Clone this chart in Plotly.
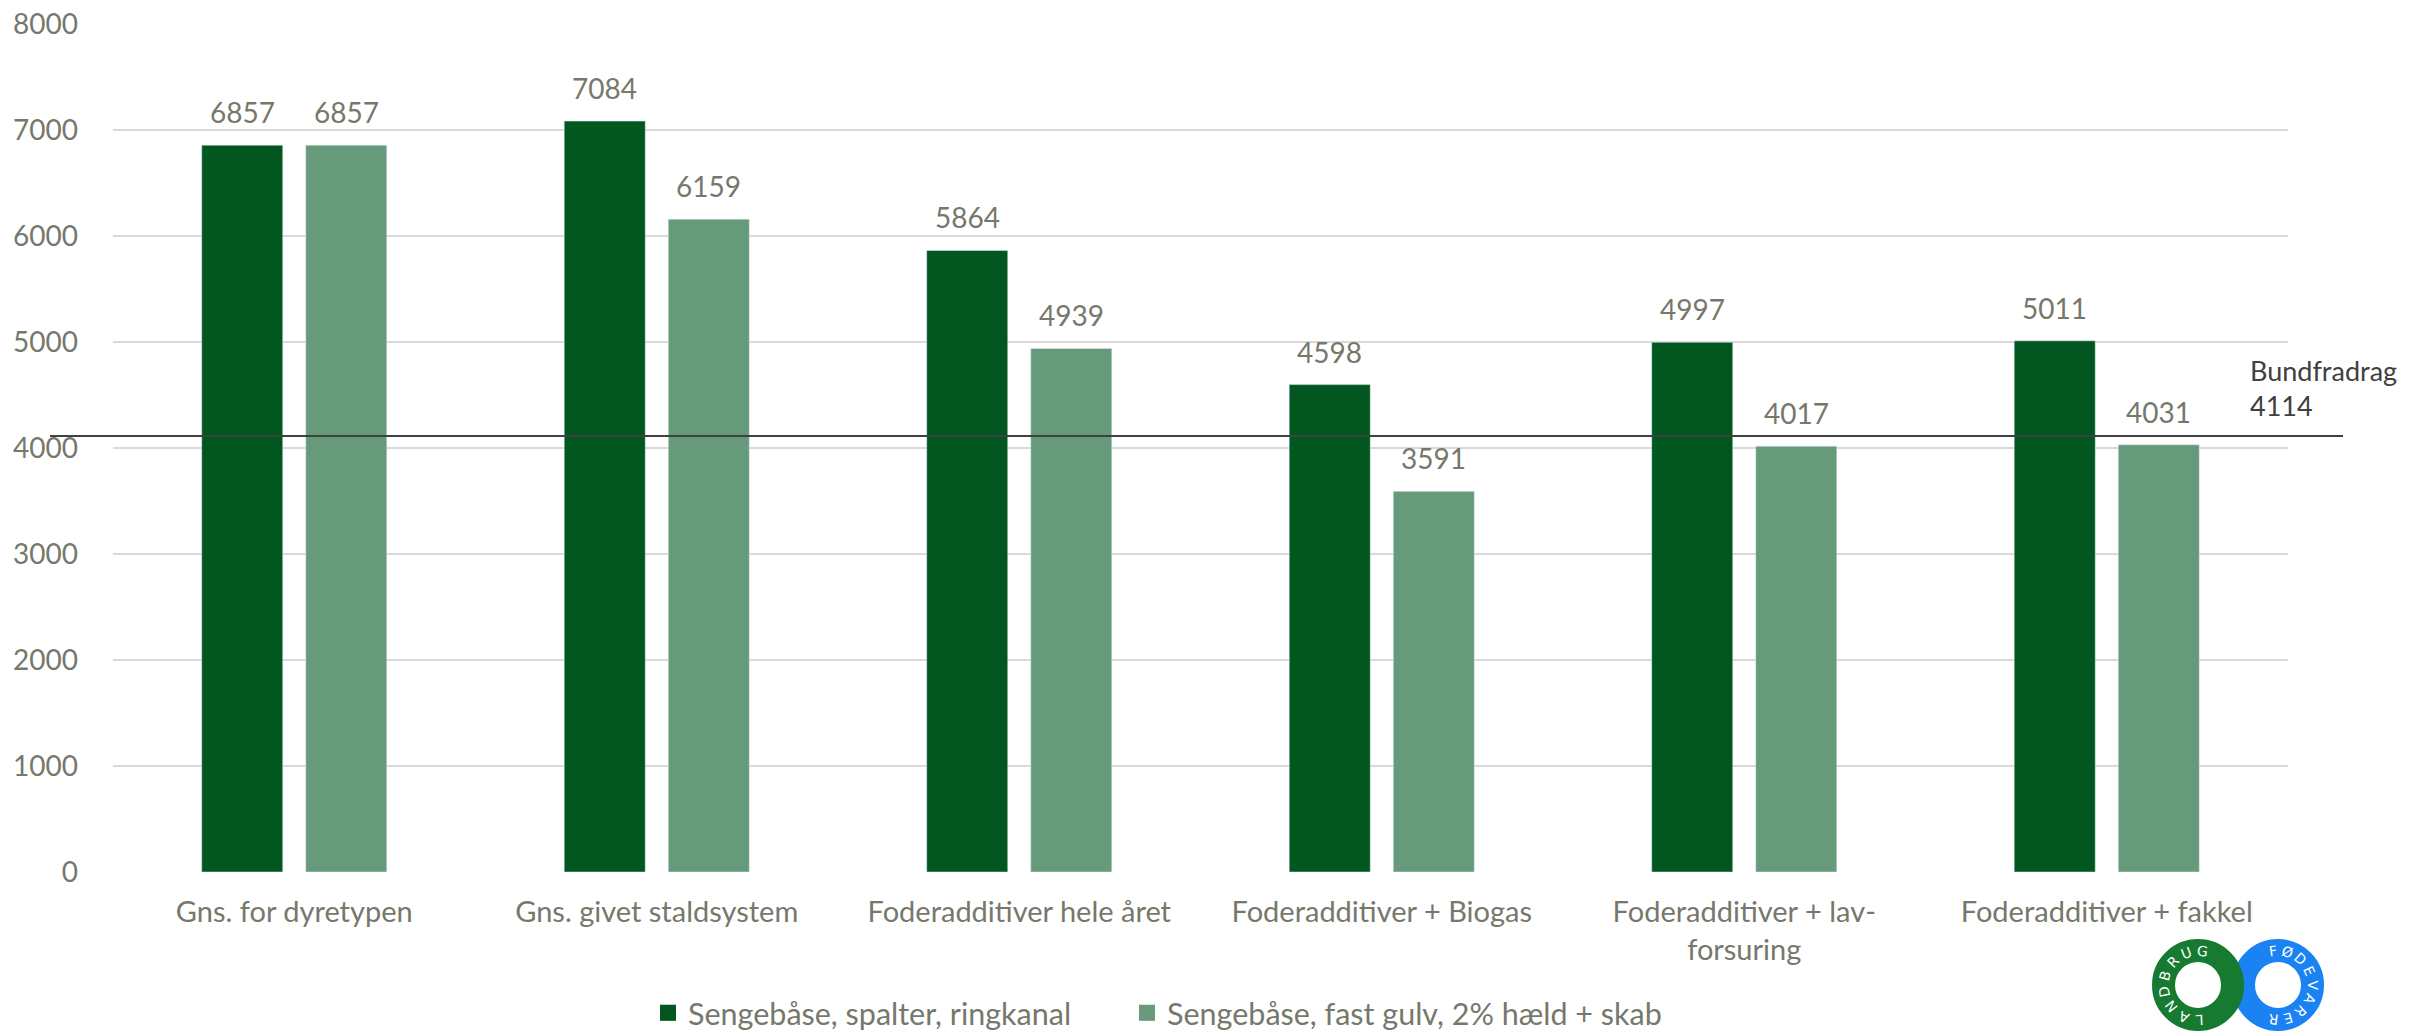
import math
import plotly.graph_objects as go

categories = ["Gns. for dyretypen", "Gns. givet staldsystem", "Foderadditiver hele året",
              "Foderadditiver + Biogas", "Foderadditiver + lav-<br>forsuring", "Foderadditiver + fakkel"]
series1_name = "Sengebåse, spalter, ringkanal"
series2_name = "Sengebåse, fast gulv, 2% hæld + skab"
series1 = [6857, 7084, 5864, 4598, 4997, 5011]
series2 = [6857, 6159, 4939, 3591, 4017, 4031]
bundfradrag = 4114
y_ticks = [0, 1000, 2000, 3000, 4000, 5000, 6000, 7000, 8000]

W, H = 2412, 1031
L, R, T, B = 113, 2288, 24, 872
FONT = "Lato"
TXT = "#76786b"
FS = 28
C1, C2 = "#02561f", "#669a7a"
BARGAP, GROUPGAP = 0.426, 0.221

def px(x):
    return (x - L) / (R - L)

def py(y):
    return (B - y) / (B - T)

fig = go.Figure()
fig.add_trace(go.Bar(x=categories, y=series1, name=series1_name, marker_color=C1, showlegend=False))
fig.add_trace(go.Bar(x=categories, y=series2, name=series2_name, marker_color=C2, showlegend=False))
# legend entries (square swatches)
fig.add_trace(go.Scatter(x=[None], y=[None], mode="markers", name=series1_name, legend="legend",
                         marker=dict(symbol="square", size=16, color=C1)))
fig.add_trace(go.Scatter(x=[None], y=[None], mode="markers", name=series2_name, legend="legend2",
                         marker=dict(symbol="square", size=16, color=C2)))

# value labels above bars
slot = (R - L) / len(categories) * (1 - BARGAP) / 2
for vals, sign in ((series1, -1), (series2, 1)):
    for c, v in zip(categories, vals):
        fig.add_annotation(x=c, y=v, xref="x", yref="y", text=str(v), showarrow=False,
                           xshift=sign * slot / 2, yshift=14, yanchor="bottom",
                           font=dict(size=FS, color=TXT, family=FONT))

fig.add_shape(type="line", xref="paper", yref="y", x0=px(50), x1=px(2343),
              y0=bundfradrag, y1=bundfradrag, line=dict(color="#404040", width=2))
fig.add_annotation(xref="paper", yref="paper", x=px(2248), y=py(352), xanchor="left", yanchor="top",
                   text="Bundfradrag<br>" + str(bundfradrag), showarrow=False, align="left",
                   font=dict(size=27, color="#404040", family=FONT))

# logo
def ring(cx, cy, color):
    r = 34.5
    fig.add_shape(type="circle", xref="paper", yref="paper",
                  x0=px(cx - r), x1=px(cx + r), y0=py(cy + r), y1=py(cy - r),
                  line=dict(color=color, width=23), layer="above")

ring(2278, 985, "#1a82f2")
ring(2198, 985, "#167a30")

def ring_text(cx, cy, word, a0, step):
    for i, ch in enumerate(word):
        a = a0 - i * step
        rad = math.radians(a)
        x = cx + 34.5 * math.cos(rad)
        y = cy - 34.5 * math.sin(rad)
        fig.add_annotation(xref="paper", yref="paper", x=px(x), y=py(y), text=ch, showarrow=False,
                           textangle=90 - a, font=dict(size=14, color="white", family="DejaVu Sans"),
                           xanchor="center", yanchor="middle")

ring_text(2198, 985, "LANDBRUG", 273, 27.1)
ring_text(2278, 985, "FØDEVARER", 98, 24.5)

leg_common = dict(orientation="h", xanchor="left", yanchor="middle", y=py(1013),
                  font=dict(size=30.5, color=TXT, family=FONT), itemwidth=30,
                  itemsizing="trace", bgcolor="rgba(0,0,0,0)")
fig.update_layout(
    width=W, height=H,
    margin=dict(l=L, r=W - R, t=T, b=H - B, autoexpand=False),
    paper_bgcolor="white", plot_bgcolor="white",
    barmode="group", bargap=BARGAP, bargroupgap=GROUPGAP,
    font=dict(family=FONT, color=TXT, size=FS),
    showlegend=True,
    legend=dict(x=px(648), **leg_common),
    legend2=dict(x=px(1127), **leg_common),
)
fig.update_yaxes(range=[0, 8000], tickvals=y_ticks, showgrid=True, gridcolor="#d9d9d9", gridwidth=2,
                 zeroline=False, showline=False, ticklabelstandoff=34,
                 tickfont=dict(size=FS, color=TXT, family=FONT))
fig.update_xaxes(showline=False, showgrid=False, ticklabelstandoff=20,
                 tickfont=dict(size=29, color=TXT, family=FONT))

fig.write_html("out.html", config={"displayModeBar": False},
               post_script="document.body.style.margin='0px';")
